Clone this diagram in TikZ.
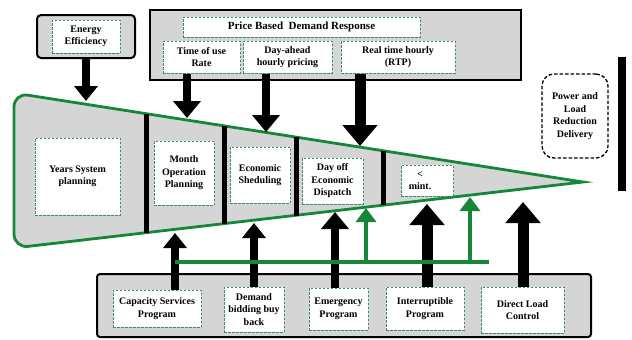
\documentclass[tikz,border=0pt]{standalone}
\usepackage{fontspec}
\setmainfont{Liberation Serif}
\usetikzlibrary{arrows.meta,positioning}
\definecolor{dsgray}{HTML}{D5D5D5}
\definecolor{dsgreen}{HTML}{16873A}
\definecolor{dsdash}{HTML}{3E8C5E}
\tikzset{
  panel/.style={draw=black, line width=2pt, fill=dsgray},
  cell/.style={draw=dsdash, dash pattern=on 2.5pt off 1.5pt, line width=1pt,
    fill=white, align=center, inner sep=1pt,
    font=\fontsize{10}{12.5}\selectfont\bfseries},
  divider/.style={line width=5pt, draw=black},
  pushS/.style={-{Triangle[width=23pt,length=15pt]}, line width=7.5pt},
  pushM/.style={-{Triangle[width=27pt,length=17pt]}, line width=8.5pt},
  pushL/.style={-{Triangle[width=34pt,length=21pt]}, line width=11pt},
  greenpush/.style={-{Triangle[width=20pt,length=14pt]}, line width=3.5pt, color=dsgreen}
}
\begin{document}
\begin{tikzpicture}[x=1pt, y=-1pt]
    \useasboundingbox (0,0) rectangle (632,340);

    % funnel of planning horizons
    \coordinate (ftl) at (14,93);
    \coordinate (fbl) at (14,248);
    \coordinate (ftip) at (583,182);
    \draw[draw=dsgreen, line width=2.8pt, fill=dsgray, line join=miter]
        (ftip) [rounded corners=14pt] -- (ftl) -- (fbl) [sharp corners] -- cycle;
    \foreach \x/\ya/\yb in {146/113.8/233.1, 224/126/224, 296/137.2/215.6, 383/150.8/205.4}
        \draw[divider] (\x,\ya) -- (\x,\yb);

    \node[cell, minimum width=85pt, minimum height=77pt] (ysp) at (77.5,176.5) {Years System\\planning};
    \node[cell, minimum width=60pt, minimum height=64pt] (mop) at (184,173) {Month\\Operation\\Planning};
    \node[cell, minimum width=60pt, minimum height=56pt] (esh) at (260,175) {Economic\\Sheduling};
    \node[cell, minimum width=61pt, minimum height=46pt] (dod) at (332.5,181) {Day off\\Economic\\Dispatch};
    \node[cell, minimum width=52pt, minimum height=31pt] (mint) at (427,180.5) {<\hspace*{14pt}\\mint.\hspace*{14pt}};

    % top panels
    \node[panel, rounded corners=4pt, minimum width=98pt, minimum height=43pt] (eebox) at (86,36.5) {};
    \node[cell, minimum width=68pt, minimum height=33pt] (ee) at (86,36.5) {Energy\\Efficiency};

    \node[panel, minimum width=371pt, minimum height=70pt] (pbdr) at (335.5,45) {};
    \node[cell, font=\fontsize{11}{13}\selectfont\bfseries, minimum width=237pt, minimum height=20pt] (pbtitle) at (301.5,27) {Price Based\ \ Demand Response};
    \node[cell, minimum width=77pt, minimum height=32pt] (tou) at (201.5,57) {Time of use\\Rate};
    \node[cell, minimum width=89pt, minimum height=32pt, right=2pt of tou] (dah) {Day-ahead\\hourly pricing};
    \node[cell, minimum width=114pt, minimum height=32pt, right=8pt of dah] (rtp) {Real time hourly\\(RTP)};

    \node[draw, dash pattern=on 3.5pt off 2pt, line width=1.3pt, rounded corners=12pt,
        minimum width=66pt, minimum height=84pt, align=center,
        font=\fontsize{10}{12.5}\selectfont\bfseries] (plrd) at (575,116) {Power and\\Load\\Reduction\\Delivery};
    \node[fill=black, inner sep=0pt, minimum width=8pt, minimum height=134pt] (rbar) at (622,124) {};

    % bottom panel
    \node[panel, rounded corners=3pt, minimum width=494pt, minimum height=63pt] (progs) at (344,305.5) {};
    \node[cell, minimum width=88pt, minimum height=37pt] (csp) at (157,308.5) {Capacity Services\\Program};
    \node[cell, minimum width=60pt, minimum height=45pt] (dbb) at (254,309.5) {Demand\\bidding buy\\back};
    \node[cell, minimum width=59pt, minimum height=42pt] (emp) at (338.5,309) {Emergency\\Program};
    \node[cell, minimum width=78pt, minimum height=43pt] (inp) at (425,308.5) {Interruptible\\Program};
    \node[cell, minimum width=83pt, minimum height=46pt] (dlc) at (522.5,310) {Direct Load\\Control};

    % arrows into the funnel
    \coordinate (eeT) at (86,101);
    \coordinate (touT) at (187,118);
    \coordinate (dahT) at (266,132);
    \coordinate (rtpT) at (360,146);
    \draw[pushS] (eebox.south) -- (eeT);
    \draw[pushM] (tou.south -| touT) -- (touT);
    \draw[pushM] (dah.south -| dahT) -- (dahT);
    \draw[pushL] (rtp.south -| rtpT) -- (rtpT);

    \coordinate (cspT) at (175,233);
    \coordinate (dbbT) at (254,223);
    \coordinate (empT) at (335,212);
    \coordinate (inpT) at (427,204);
    \coordinate (dlcT) at (523,202);
    \draw[pushS] (csp.north -| cspT) -- (cspT);
    \draw[pushS] (dbb.north -| dbbT) -- (dbbT);
    \draw[pushM] (emp.north -| empT) -- (empT);
    \draw[pushL] (inp.north -| inpT) -- (inpT);
    \draw[pushL] (dlc.north -| dlcT) -- (dlcT);

    % green feedback line
    \coordinate (gL) at (175,262);
    \coordinate (gR) at (489,262);
    \coordinate (g1T) at (366,208);
    \coordinate (g2T) at (470,197);
    \draw[dsgreen, line width=3.5pt] (gL) -- (gR);
    \draw[greenpush] (gL -| g1T) -- (g1T);
    \draw[greenpush] (gL -| g2T) -- (g2T);
\end{tikzpicture}
\end{document}
